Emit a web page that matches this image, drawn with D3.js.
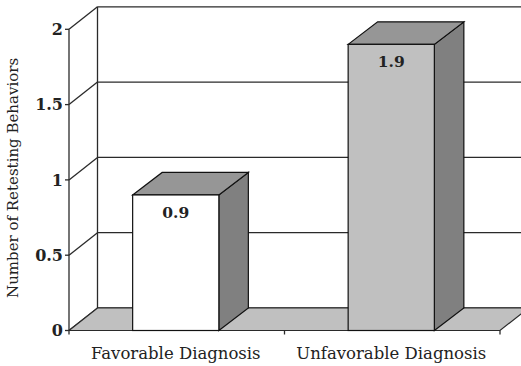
<!DOCTYPE html>
<html>
<head>
<meta charset="utf-8">
<script src="https://cdn.jsdelivr.net/npm/d3@7"></script>
<style>
  body { margin: 0; background: #fff; }
  text { font-family: "DejaVu Serif", serif; fill: #222; }
</style>
</head>
<body>
<div id="container"></div>
<script>
const categories = ["Favorable Diagnosis", "Unfavorable Diagnosis"]
const values = [0.9, 1.9]
const valueLabels = ["0.9", "1.9"]
const yTicks = [0, 0.5, 1, 1.5, 2]
const yTickLabels = ["0", "0.5", "1", "1.5", "2"]
const yTitle = "Number of Retesting Behaviors"

const width = 521
const height = 366
const plotLeft = 69, plotRight = 500
const plotBottom = 330.5, plotTop = 29.3
// depth of the 3d box
const dx = 28.5, dy = -22.5

const svg = d3.select("#container")
    .append("svg")
    .attr("width", width)
    .attr("height", height)

const x = d3.scaleBand()
    .domain(categories)
    .range([plotLeft, plotRight])
    .paddingInner(0.6)
    .paddingOuter(0.3)

const y = d3.scaleLinear()
    .domain([0, 2])
    .range([plotBottom, plotTop])

const lineColor = "#2a2a2a"

/* BACK WALL + GRID */
svg.append("line")
    .attr("x1", plotLeft + dx).attr("x2", plotLeft + dx)
    .attr("y1", y(2) + dy).attr("y2", y(0) + dy)
    .attr("stroke", lineColor).attr("stroke-width", 1.3)

svg.selectAll("back-grid")
    .data(yTicks)
    .join("line")
    .attr("x1", plotLeft + dx)
    .attr("x2", width + 5)
    .attr("y1", d => y(d) + dy)
    .attr("y2", d => y(d) + dy)
    .attr("stroke", lineColor).attr("stroke-width", 1.3)

/* LEFT WALL diagonals */
svg.selectAll("side-grid")
    .data(yTicks)
    .join("line")
    .attr("x1", plotLeft)
    .attr("x2", plotLeft + dx)
    .attr("y1", d => y(d))
    .attr("y2", d => y(d) + dy)
    .attr("stroke", lineColor).attr("stroke-width", 1.3)

/* FLOOR */
svg.append("polygon")
    .attr("points", [
        [plotLeft, y(0)], [plotRight, y(0)],
        [plotRight + dx, y(0) + dy], [plotLeft + dx, y(0) + dy]
    ].map(p => p.join(",")).join(" "))
    .attr("fill", "#c0c0c0")
    .attr("stroke", lineColor)
    .attr("stroke-width", 1.2)

/* BARS */
const frontColors = ["#ffffff", "#c0c0c0"]
const bars = svg.selectAll(".bar")
    .data(values)
    .join("g")
    .attr("class", "bar")

bars.each(function(d, i) {
    const g = d3.select(this)
    const x0 = x(categories[i]) - 1
    const x1 = x0 + x.bandwidth()
    const yt = y(d), yb = y(0)
    const bdx = 29.5
    const poly = pts => pts.map(p => p.join(",")).join(" ")
    // side
    g.append("polygon")
        .attr("points", poly([[x1, yt], [x1 + bdx, yt + dy], [x1 + bdx, yb + dy], [x1, yb]]))
        .attr("fill", "#808080").attr("stroke", "#111").attr("stroke-width", 1.2)
    // top
    g.append("polygon")
        .attr("points", poly([[x0, yt], [x0 + bdx, yt + dy], [x1 + bdx, yt + dy], [x1, yt]]))
        .attr("fill", "#969696").attr("stroke", "#111").attr("stroke-width", 1.2)
    // front
    g.append("rect")
        .attr("x", x0).attr("y", yt)
        .attr("width", x1 - x0).attr("height", yb - yt)
        .attr("fill", frontColors[i]).attr("stroke", "#111").attr("stroke-width", 1.2)
    g.append("text")
        .attr("x", (x0 + x1) / 2)
        .attr("y", yt + 23)
        .attr("text-anchor", "middle")
        .style("font-size", "15.5px")
        .style("font-weight", "bold")
        .text(valueLabels[i])
})

/* Y AXIS */
svg.append("line")
    .attr("x1", plotLeft).attr("x2", plotLeft)
    .attr("y1", y(2)).attr("y2", y(0))
    .attr("stroke", lineColor).attr("stroke-width", 1.3)

svg.selectAll("y-tick")
    .data(yTicks)
    .join("line")
    .attr("x1", plotLeft - 4).attr("x2", plotLeft)
    .attr("y1", d => y(d)).attr("y2", d => y(d))
    .attr("stroke", lineColor).attr("stroke-width", 1.3)

svg.selectAll("y-label")
    .data(yTicks)
    .join("text")
    .attr("x", plotLeft - 6)
    .attr("y", d => y(d))
    .attr("dy", "0.36em")
    .attr("text-anchor", "end")
    .style("font-size", "16px")
    .style("font-weight", "bold")
    .text((d, i) => yTickLabels[i])

svg.append("text")
    .attr("transform", `translate(18, ${(y(0) + y(2)) / 2 - 2}) rotate(-90)`)
    .attr("text-anchor", "middle")
    .style("font-size", "15px")
    .text(yTitle)

/* X AXIS */
const xTicks = [plotLeft, plotLeft + (plotRight - plotLeft) / 2, plotRight]
svg.selectAll("x-tick")
    .data(xTicks)
    .join("line")
    .attr("x1", d => d).attr("x2", d => d)
    .attr("y1", y(0)).attr("y2", y(0) + 4)
    .attr("stroke", lineColor).attr("stroke-width", 1.3)

svg.selectAll("x-label")
    .data(categories)
    .join("text")
    .attr("x", d => x(d) + x.bandwidth() / 2 - 1)
    .attr("y", 359)
    .attr("text-anchor", "middle")
    .style("font-size", "16.5px")
    .text(d => d)
</script>
</body>
</html>
